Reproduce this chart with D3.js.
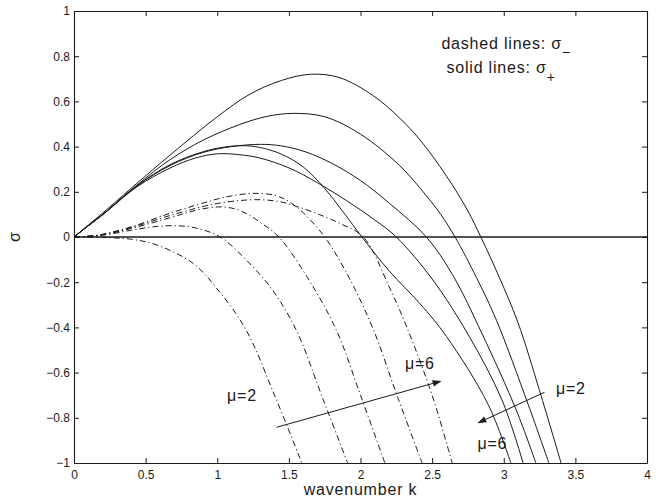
<!DOCTYPE html>
<html><head><meta charset="utf-8">
<script src="https://cdn.jsdelivr.net/npm/d3@7"></script>
<style>
html,body{margin:0;padding:0;background:#fff;}
svg{display:block;font-family:"Liberation Sans",Arial,Helvetica,sans-serif;}
</style></head><body>
<svg id="chart" width="657" height="502"></svg>
<script>
// ---- data (k, sigma) ----
const xTicks = [0, 0.5, 1, 1.5, 2, 2.5, 3, 3.5, 4];
const xTickLabels = ["0", "0.5", "1", "1.5", "2", "2.5", "3", "3.5", "4"];
const yTicks = [-1, -0.8, -0.6, -0.4, -0.2, 0, 0.2, 0.4, 0.6, 0.8, 1];
const yTickLabels = ["\u22121", "\u22120.8", "\u22120.6", "\u22120.4", "\u22120.2", "0", "0.2", "0.4", "0.6", "0.8", "1"];

// solid lines: sigma_plus
const sigmaPlusMu2 = [[0,0],[0.1,0.053],[0.2,0.106],[0.44,0.238],[0.67,0.362],[1.0,0.532],[1.228,0.632],[1.45,0.693],[1.65,0.72],[1.85,0.706],[2.09,0.625],[2.275,0.525],[2.415,0.43],[2.6,0.27],[2.75,0.115],[2.84,0],[2.97,-0.18],[3.1,-0.38],[3.25,-0.68],[3.4,-1.0]];
const sigmaPlusMu3 = [[0,0],[0.1,0.05],[0.2,0.1],[0.44,0.23],[0.67,0.342],[0.9,0.428],[1.158,0.498],[1.35,0.534],[1.53,0.547],[1.75,0.532],[2.0,0.455],[2.275,0.315],[2.45,0.19],[2.56,0.1],[2.66,0],[2.81,-0.18],[2.95,-0.37],[3.17,-0.74],[3.315,-1.0]];
const sigmaPlusMu4 = [[0,0],[0.1,0.05],[0.2,0.099],[0.44,0.226],[0.67,0.316],[0.9,0.374],[1.1,0.4],[1.3,0.41],[1.45,0.403],[1.62,0.376],[1.8,0.326],[2.0,0.25],[2.2,0.15],[2.46,0],[2.645,-0.17],[2.85,-0.43],[3.09,-0.77],[3.224,-1.0]];
const sigmaPlusMu5 = [[0,0],[0.1,0.05],[0.2,0.098],[0.44,0.222],[0.67,0.305],[0.85,0.35],[1.0,0.368],[1.158,0.364],[1.3,0.349],[1.5,0.306],[1.7,0.24],[1.9,0.162],[2.1,0.075],[2.25,0],[2.505,-0.19],[2.75,-0.43],[2.987,-0.72],[3.135,-1.0]];
const sigmaPlusMu6 = [[0,0],[0.1,0.05],[0.2,0.099],[0.44,0.227],[0.67,0.32],[0.9,0.377],[1.05,0.398],[1.18,0.404],[1.3,0.396],[1.45,0.366],[1.6,0.31],[1.75,0.215],[1.88,0.11],[2.01,0],[2.2,-0.15],[2.415,-0.295],[2.6,-0.44],[2.89,-0.74],[3.05,-1.0]];

// dashed lines: sigma_minus
const sigmaMinusMu2 = [[0,0],[0.2,-0.002],[0.4,-0.01],[0.577,-0.035],[0.83,-0.116],[1.0,-0.23],[1.2,-0.41],[1.4,-0.7],[1.59,-1.0]];
const sigmaMinusMu3 = [[0,0],[0.2,0.008],[0.4,0.03],[0.55,0.045],[0.7,0.05],[0.85,0.04],[1.02,0],[1.2,-0.1],[1.38,-0.23],[1.55,-0.41],[1.74,-0.72],[1.91,-1.0]];
const sigmaMinusMu4 = [[0,0],[0.2,0.01],[0.4,0.038],[0.67,0.085],[0.85,0.118],[1.0,0.133],[1.1,0.128],[1.2,0.105],[1.3,0.065],[1.43,0],[1.63,-0.18],[1.83,-0.41],[2.0,-0.7],[2.17,-1.0]];
const sigmaMinusMu5 = [[0,0],[0.1,0.003],[0.2,0.012],[0.4,0.045],[0.67,0.105],[0.9,0.15],[1.0,0.168],[1.1,0.182],[1.25,0.193],[1.4,0.185],[1.5,0.157],[1.6,0.107],[1.75,0],[1.92,-0.18],[2.09,-0.41],[2.26,-0.71],[2.43,-1.0]];
const sigmaMinusMu6 = [[0,0],[0.1,0.003],[0.2,0.011],[0.4,0.042],[0.67,0.095],[0.9,0.135],[1.0,0.148],[1.15,0.161],[1.3,0.165],[1.44,0.156],[1.55,0.136],[1.69,0.105],[1.856,0.06],[2.02,0],[2.2,-0.22],[2.33,-0.41],[2.5,-0.7],[2.64,-1.0]];

const solidSeries = [sigmaPlusMu2, sigmaPlusMu3, sigmaPlusMu4, sigmaPlusMu5, sigmaPlusMu6];
const dashedSeries = [sigmaMinusMu2, sigmaMinusMu3, sigmaMinusMu4, sigmaMinusMu5, sigmaMinusMu6];

// ---- layout ----
const svg = d3.select("#chart");
const pLeft = 74, pRight = 647, pTop = 11, pBottom = 463;
const x = d3.scaleLinear().domain([0, 4]).range([pLeft, pRight]);
const y = d3.scaleLinear().domain([-1, 1]).range([pBottom, pTop]);
const ink = "#1a1a1a";

svg.append("defs").append("clipPath").attr("id", "plotclip")
  .append("rect").attr("x", pLeft).attr("y", pTop).attr("width", pRight - pLeft).attr("height", pBottom - pTop);

// axes with inward ticks
const tickLen = 5;
const xAxisB = d3.axisBottom(x).tickValues(xTicks).tickSizeInner(-tickLen).tickSizeOuter(0)
  .tickPadding(7).tickFormat((d, i) => xTickLabels[i]);
const xAxisT = d3.axisTop(x).tickValues(xTicks).tickSizeInner(-tickLen).tickSizeOuter(0).tickFormat("");
const yAxisL = d3.axisLeft(y).tickValues(yTicks).tickSizeInner(-tickLen).tickSizeOuter(0)
  .tickPadding(4).tickFormat((d, i) => yTickLabels[i]);
const yAxisR = d3.axisRight(y).tickValues(yTicks).tickSizeInner(-tickLen).tickSizeOuter(0).tickFormat("");

function styleAxis(g) {
  g.selectAll("path.domain").attr("stroke", ink).attr("stroke-width", 1.1);
  g.selectAll(".tick line").attr("stroke", ink).attr("stroke-width", 1);
  g.selectAll(".tick text").attr("fill", ink).attr("font-size", 12)
    .attr("font-family", "'Liberation Sans',Arial,Helvetica,sans-serif");
}
svg.append("g").attr("transform", `translate(0,${pBottom})`).call(xAxisB).call(styleAxis);
svg.append("g").attr("transform", `translate(0,${pTop})`).call(xAxisT).call(styleAxis);
svg.append("g").attr("transform", `translate(${pLeft},0)`).call(yAxisL).call(styleAxis);
svg.append("g").attr("transform", `translate(${pRight},0)`).call(yAxisR).call(styleAxis);

// zero line
svg.append("line").attr("x1", x(0)).attr("x2", x(4)).attr("y1", y(0)).attr("y2", y(0))
  .attr("stroke", ink).attr("stroke-width", 1.3);

const line = d3.line().x(d => x(d[0])).y(d => y(d[1])).curve(d3.curveCatmullRom.alpha(0.5));
const plot = svg.append("g").attr("clip-path", "url(#plotclip)");
plot.selectAll("path.solid").data(solidSeries).join("path").attr("class", "solid")
  .attr("d", line).attr("fill", "none").attr("stroke", ink).attr("stroke-width", 1);
plot.selectAll("path.dashed").data(dashedSeries).join("path").attr("class", "dashed")
  .attr("d", line).attr("fill", "none").attr("stroke", ink).attr("stroke-width", 1)
  .attr("stroke-dasharray", "6,3,1.2,3");

// labels
svg.append("text").attr("x", (pLeft + pRight) / 2).attr("y", 495).attr("text-anchor", "middle")
  .attr("font-size", 16).attr("letter-spacing", 0.8).attr("fill", ink).text("wavenumber k");
svg.append("text").attr("transform", `translate(20,${y(0)}) rotate(-90)`).attr("text-anchor", "middle")
  .attr("font-size", 16).attr("fill", ink).text("σ");

// annotation
const t1 = svg.append("text").attr("x", x(2.565)).attr("y", y(0.83)).attr("font-size", 16)
  .attr("letter-spacing", 0.8).attr("fill", ink);
t1.append("tspan").text("dashed lines: σ");
t1.append("tspan").attr("dy", 8).attr("font-size", 14).attr("letter-spacing", 0).text("\u2212");
const t2 = svg.append("text").attr("x", x(2.6)).attr("y", y(0.724)).attr("font-size", 16)
  .attr("letter-spacing", 0.8).attr("fill", ink);
t2.append("tspan").text("solid lines: σ");
t2.append("tspan").attr("dy", 9).attr("font-size", 14).attr("letter-spacing", 0).text("+");

// mu labels
const muLabels = [
  {t: "μ=2", k: 1.068, s: -0.726},
  {t: "μ=6", k: 2.31, s: -0.584},
  {t: "μ=2", k: 3.364, s: -0.695},
  {t: "μ=6", k: 2.816, s: -0.94}
];
svg.selectAll("text.mu").data(muLabels).join("text").attr("class", "mu")
  .attr("x", d => x(d.k)).attr("y", d => y(d.s)).attr("font-size", 16)
  .attr("letter-spacing", 0.8).attr("fill", ink).text(d => d.t);

// arrows
const arrows = [
  {from: [1.414, -0.842], to: [2.566, -0.637]},
  {from: [3.285, -0.687], to: [2.816, -0.824]}
];
arrows.forEach(a => {
  const x1 = x(a.from[0]), y1 = y(a.from[1]), x2 = x(a.to[0]), y2 = y(a.to[1]);
  const ang = Math.atan2(y2 - y1, x2 - x1);
  const L = 9, W = 3.2;
  const bx = x2 - L * Math.cos(ang), by = y2 - L * Math.sin(ang);
  svg.append("line").attr("x1", x1).attr("y1", y1).attr("x2", bx).attr("y2", by)
    .attr("stroke", ink).attr("stroke-width", 1);
  const pts = [[x2, y2],
    [bx + W * Math.sin(ang), by - W * Math.cos(ang)],
    [bx - W * Math.sin(ang), by + W * Math.cos(ang)]];
  svg.append("polygon").attr("points", pts.map(p => p.join(",")).join(" ")).attr("fill", ink);
});
</script>
</body></html>
